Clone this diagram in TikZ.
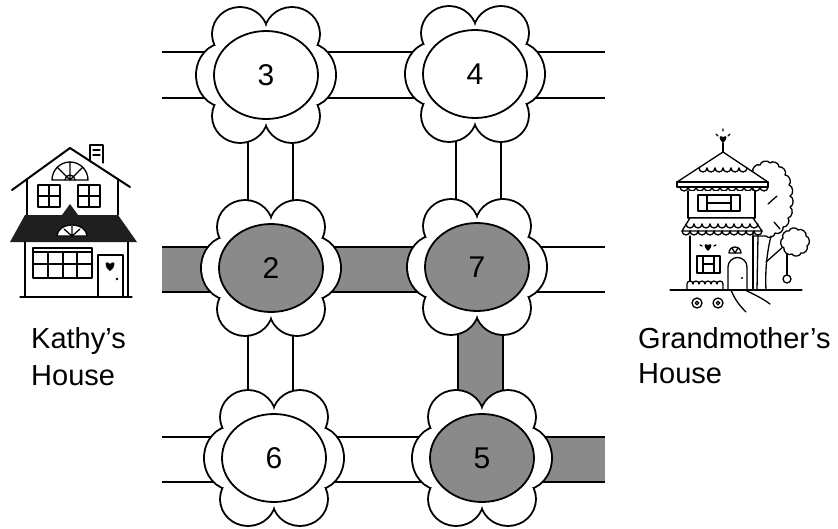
\documentclass[tikz,border=0pt]{standalone}
\usepackage{fontspec}
\setmainfont{Liberation Sans}
\usetikzlibrary{shapes.geometric}
\definecolor{roadgray}{RGB}{138,138,138}
\newcommand\drawflower[5]{%
  \begin{scope}[shift={(#2,#3)}]
    \foreach \px/\py/\rx/\ry in {-42/0/27/31,42/0/27/31,-26/-41/27/26,26/-41/27/26,-26/41/27/26,26/41/27/26}
      \draw[line width=3.8pt] (\px,\py) ellipse [x radius=\rx pt, y radius=\ry pt];
    \foreach \px/\py/\rx/\ry in {-42/0/27/31,42/0/27/31,-26/-41/27/26,26/-41/27/26,-26/41/27/26,26/41/27/26}
      \fill[white] (\px,\py) ellipse [x radius=\rx pt, y radius=\ry pt];
  \end{scope}
  \node[centre, fill=#4] (#1) at (#2,#3) {#5};
}
\begin{document}
\begin{tikzpicture}[x=1pt,y=-1pt,
  road/.style={line width=1.5pt},
  centre/.style={ellipse, draw, line width=1.8pt, minimum width=104pt, minimum height=88pt, inner sep=0pt, font=\fontsize{30}{36}\selectfont},
  hl/.style={line width=1.3pt, line join=round, line cap=round},
  scallop/.style={bend left=75},
  housetext/.style={anchor=base west, inner sep=0pt, font=\fontsize{29}{35}\selectfont}]

\fill[white] (0,0) rectangle (838,528);
\useasboundingbox (0,0) rectangle (838,528);

% ---------- roads ----------
\fill[roadgray] (162,247) rectangle (440,292);
\fill[roadgray] (458,267) rectangle (503,458);
\fill[roadgray] (520,437) rectangle (605,482);
\draw[road] (162,52)--(605,52) (162,98)--(605,98)
  (162,247)--(605,247) (162,292)--(605,292)
  (162,437)--(605,437) (162,482)--(605,482)
  (248,75)--(248,458) (293,75)--(293,458)
  (456,75)--(456,267) (501,75)--(501,267)
  (458,267)--(458,458) (503,267)--(503,458);

% ---------- flowers ----------
\drawflower{f3}{266}{75}{white}{3}
\drawflower{f4}{475}{74}{white}{4}
\drawflower{f2}{271}{268}{roadgray}{2}
\drawflower{f7}{477}{267}{roadgray}{7}
\drawflower{f6}{274}{458}{white}{6}
\drawflower{f5}{482}{458}{roadgray}{5}

% ---------- Kathy's house ----------
\begin{scope}[hl]
  \draw[fill=white] (90,161) -- (90,145) -- (103,145) -- (103,163);
  \draw (93,150) -- (100,150) (93,155) -- (100,155);
  \draw[line width=2pt] (12,190) -- (70,148) -- (130,187);
  \draw (27,179) -- (27,215) (118,179) -- (118,215);
  \draw (52,180) arc[start angle=180, end angle=0, radius=18pt] -- cycle;
  \draw (70,180) -- ++(45:18pt) (70,180) -- ++(90:18pt) (70,180) -- ++(135:18pt);
  \draw (65,180) arc[start angle=180, end angle=0, radius=5pt];
  \draw (38,185) rectangle (60,207) (49,185) -- (49,207) (38,196) -- (60,196);
  \draw (78,185) rectangle (100,207) (89,185) -- (89,207) (78,196) -- (100,196);
  \fill[black!88] (25,215) -- (62,215) -- (70,204) -- (78,215) -- (118,215) -- (137,242) -- (10,242) -- cycle;
  \draw[fill=white] (57,236) arc[start angle=180, end angle=0, x radius=15pt, y radius=11pt] -- cycle;
  \draw (72,236) -- (72,226) (72,236) -- (64,229) (72,236) -- (80,229);
  \draw (25,242) -- (25,297) (128,242) -- (128,297) (20,297) -- (132,297);
  \draw[line width=2pt] (33,248) rectangle (92,278);
  \draw (33,252) -- (92,252) (48,252) -- (48,278) (63,252) -- (63,278) (77,252) -- (77,278) (33,264) -- (92,264);
  \draw (98,297) -- (98,255) -- (123,255) -- (123,297);
  \fill (110,271) .. controls (103,266) and (105,259) .. (110,264) .. controls (115,259) and (117,266) .. (110,271);
  \fill (117,279) circle[radius=1.3pt];
\end{scope}
\node[housetext] (kathy) at (31,348) {Kathy's};
\node[housetext] (kathyhouse) at (31,385) {House};

% ---------- Grandmother's house ----------
\begin{scope}[hl]
  % tree canopy
  \draw[fill=white] (753,172) to[scallop] (760,165) to[scallop] (770,163) to[scallop] (779,167)
    to[scallop] (785,175) to[scallop] (789,185) to[scallop] (790,196) to[scallop] (790,207)
    to[scallop] (788,218) to[scallop] (783,227) to[scallop] (775,233) to[scallop] (766,236)
    -- (753,236) -- cycle;
  \draw (768,204) -- (777,196) (774,222) -- (780,229);
  \draw (757,290) -- (758,236) (766,290) .. controls (765,270) and (767,252) .. (771,236);
  \draw (766,262) -- (784,246);
  \draw[fill=white] (784,248) to[scallop] (783,238) to[scallop] (789,231) to[scallop] (798,230)
    to[scallop] (806,236) to[scallop] (807,246) to[scallop] (801,253) to[scallop] (792,254)
    to[scallop] (784,248);
  \draw (787,254) -- (787,275);
  \draw (787,279) circle[radius=4pt];
  % finial
  \fill (723,143) .. controls (718,139) and (719,134) .. (723,137) .. controls (727,134) and (728,139) .. (723,143);
  \draw (723,143) -- (723,153);
  \draw (716,134) -- (718,136) (730,134) -- (728,136) (723,129) -- (723,131);
  % upper roof
  \draw[fill=white] (723,152) -- (677,182) -- (768,182) -- cycle;
  \draw[fill=white] (677,182) rectangle (768,187);
  \foreach \i in {0,...,5} \draw (699+\i*8,168) arc[start angle=180, end angle=360, radius=4pt];
  \foreach \i in {0,...,10} \draw (680+\i*8,187) arc[start angle=180, end angle=360, radius=4pt];
  % upper storey
  \draw[fill=white] (688,191) -- (688,218) -- (755,218) -- (755,191);
  \draw (698,195) rectangle (740,211) (707,195) -- (707,211) (731,195) -- (731,211) (707,203) -- (731,203);
  % awning
  \draw[fill=white] (690,218) -- (753,218) -- (762,231) -- (682,231) -- cycle;
  \foreach \i in {0,...,8} \draw (686+\i*8,224) arc[start angle=180, end angle=360, radius=4pt];
  \foreach \i in {0,...,9} \draw (682+\i*8,231) arc[start angle=180, end angle=360, radius=4pt];
  % lower storey
  \fill[white] (690,236) rectangle (753,290);
  \draw (690,236) -- (690,290) (753,236) -- (753,290);
  \fill (708,251) .. controls (703,247) and (704,242) .. (708,245) .. controls (712,242) and (713,247) .. (708,251);
  \draw (700,245) -- (702,246) (716,245) -- (714,246);
  \draw (697,256) rectangle (720,273) (703,256) -- (703,273) (714,256) -- (714,273) (703,264) -- (714,264);
  \draw (729,253) arc[start angle=180, end angle=0, radius=6pt] -- cycle;
  \draw (735,253) -- ++(60:6pt) (735,253) -- ++(120:6pt);
  \draw (728,290) -- (728,267) arc[start angle=180, end angle=0, radius=9.5pt] -- (747,290);
  \fill (742,278) circle[radius=1.2pt];
  \draw[fill=white] (687,290) -- (687,284)
     arc[start angle=180, end angle=0, radius=3pt] arc[start angle=180, end angle=0, radius=3pt]
     arc[start angle=180, end angle=0, radius=3pt] arc[start angle=180, end angle=0, radius=3pt]
     arc[start angle=180, end angle=0, radius=3pt] arc[start angle=180, end angle=0, radius=3pt]
     -- (723,290);
  % ground, path, flowers
  \draw (670,290) -- (802,290);
  \draw (731,290) .. controls (735,300) and (740,306) .. (746,312);
  \draw (745,290) .. controls (755,295) and (762,298) .. (770,304);
  \draw (697,303) circle[radius=5pt] (697,303) circle[radius=1.8pt];
  \draw (718,303) circle[radius=5pt] (718,303) circle[radius=1.8pt];
\end{scope}
\node[housetext] (grandma) at (638,348) {Grandmother's};
\node[housetext] (grandmahouse) at (638,383) {House};
\end{tikzpicture}
\end{document}
